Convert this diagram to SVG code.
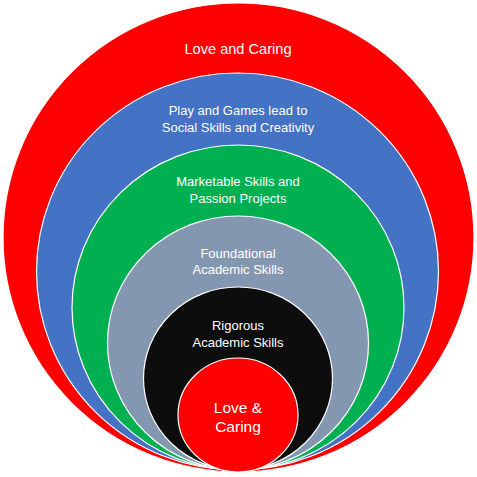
<svg xmlns="http://www.w3.org/2000/svg" width="477" height="477" viewBox="0 0 477 477">
<style>
.ring{stroke:#ffffff;stroke-width:1.2}
.t{font-family:"Liberation Sans",Arial,sans-serif;fill:#ffffff;text-anchor:middle;font-size:13px}
</style>
<rect width="477" height="477" fill="#ffffff"/>
<g id="node-outer"><ellipse class="ring" cx="238.5" cy="237.5" rx="235.5" ry="234.5" fill="#ff0000"/><text class="t" x="238" y="54" style="font-size:14.6px">Love and Caring</text></g>
<g id="node-blue"><ellipse class="ring" cx="237.5" cy="271.5" rx="201" ry="198.5" fill="#4472c4"/><text class="t" x="238" y="115">Play and Games lead to</text><text class="t" x="238" y="132">Social Skills and Creativity</text></g>
<g id="node-green"><ellipse class="ring" cx="238" cy="307.5" rx="166" ry="162.5" fill="#00b050"/><text class="t" x="238" y="186">Marketable Skills and</text><text class="t" x="238" y="203">Passion Projects</text></g>
<g id="node-gray"><ellipse class="ring" cx="238" cy="343" rx="130.5" ry="127" fill="#8497b0"/><text class="t" x="238" y="258">Foundational</text><text class="t" x="238" y="274">Academic Skills</text></g>
<g id="node-black"><ellipse class="ring" cx="238" cy="378.5" rx="94.5" ry="91.5" fill="#0d0d0d"/><text class="t" x="238" y="330">Rigorous</text><text class="t" x="238" y="347">Academic Skills</text></g>
<g id="node-core"><ellipse class="ring" cx="238" cy="415" rx="60" ry="57" fill="#ff0000"/><text class="t" x="238" y="413" style="font-size:15.5px">Love &amp;</text><text class="t" x="238" y="432" style="font-size:15.5px">Caring</text></g>
<g id="connectors"/>
</svg>
